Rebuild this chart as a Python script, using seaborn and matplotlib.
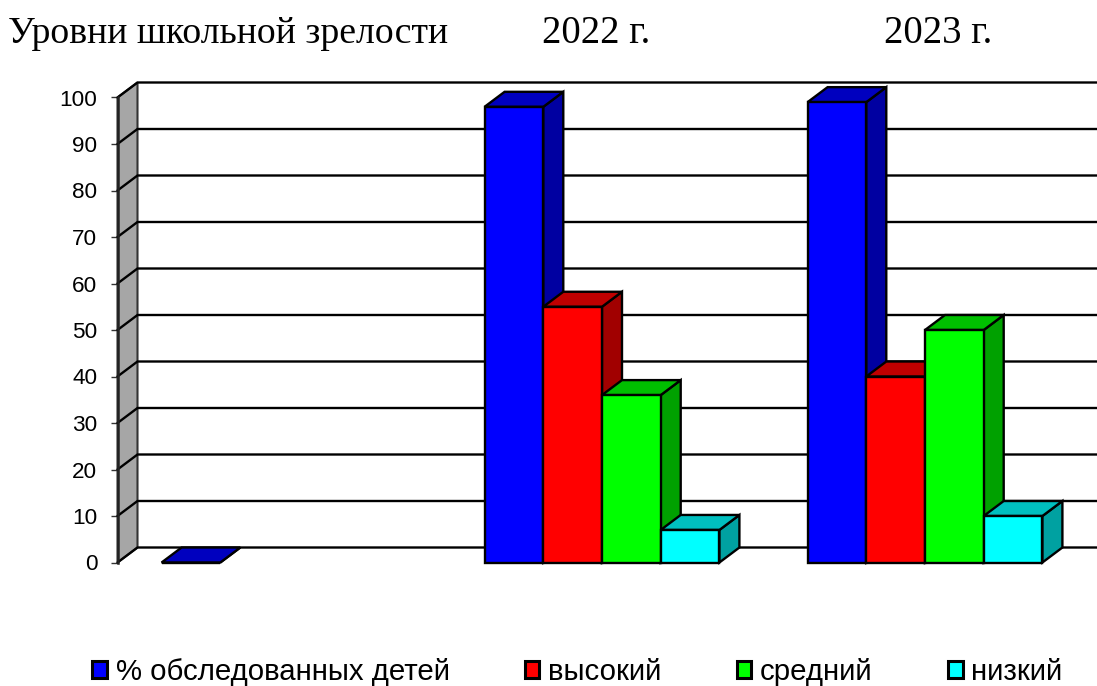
import pandas as pd
import seaborn as sns
import matplotlib.pyplot as plt
from matplotlib.patches import Polygon
from matplotlib.colors import to_rgb

# data
years = ["", "2022 г.", "2023 г."]
levels = ["% обследованных детей", "высокий", "средний", "низкий"]
surveyed = [0, 98, 99]
high = [None, 55, 40]
middle = [None, 36, 50]
low = [None, 7, 10]
colors = ["#0000ff", "#ff0000", "#00ff00", "#00ffff"]
y_ticks = [0, 10, 20, 30, 40, 50, 60, 70, 80, 90, 100]

rows = []
for level, vals in zip(levels, [surveyed, high, middle, low]):
    for year, v in zip(years, vals):
        rows.append({"year": year, "level": level, "value": v})
df = pd.DataFrame(rows)

sns.set_style("white")
plt.rcParams["font.family"] = ["Liberation Sans", "DejaVu Sans"]

W, H = 1097, 686
fig = plt.figure(figsize=(W / 100, H / 100), dpi=100)
ax = fig.add_axes([117.5 / W, 1 - 562.5 / H, 969 / W, 465 / H])

sns.barplot(data=df, x="year", y="value", hue="level", order=years, hue_order=levels,
            palette=colors, saturation=1, width=0.727, gap=0, errorbar=None,
            edgecolor="black", linewidth=1.7, ax=ax, zorder=3)

ax.set_xlim(-0.5, 2.5)
ax.set_ylim(0, 100)
ax.set_xlabel("")
ax.set_ylabel("")
ax.set_xticks([])
ax.set_yticks(y_ticks)
ax.tick_params(axis="y", left=True, length=5, width=1, color="#333333", labelsize=16.2,
               labelcolor="black", pad=9.5)
for s in ["top", "right", "bottom"]:
    ax.spines[s].set_visible(False)
ax.spines["left"].set_linewidth(1.8)
ax.spines["left"].set_color("#222222")

# 3d depth, in data units
dx = 20 / 323
dy = 15 / 4.65

# walls
ax.add_patch(Polygon([(-0.5, 0), (-0.5 + dx, dy), (-0.5 + dx, 100 + dy), (-0.5, 100)],
                     closed=True, facecolor="#a6a6a6", edgecolor="#333333", linewidth=1.5,
                     clip_on=False, zorder=1))
for v in y_ticks:
    ax.plot([-0.5, -0.5 + dx, 2.5 + dx], [v, v + dy, v + dy], color="black", lw=1.7,
            clip_on=False, zorder=2, solid_joinstyle="miter")

# tops and sides of the bars, left to right so the fronts overlap
bars = [b for c in ax.containers for b in c]
bars.sort(key=lambda b: b.get_x())
z = 4
for b in bars:
    x0 = b.get_x()
    x1 = x0 + b.get_width()
    h = b.get_height()
    rgb = to_rgb(b.get_facecolor()[:3])
    top_col = tuple(c * 0.75 for c in rgb)
    side_col = tuple(c * 0.63 for c in rgb)
    ax.add_patch(Polygon([(x1, 0), (x1 + dx, dy), (x1 + dx, h + dy), (x1, h)], closed=True,
                         facecolor=side_col, edgecolor="black", linewidth=1.7,
                         clip_on=False, zorder=z))
    ax.add_patch(Polygon([(x0, h), (x0 + dx, h + dy), (x1 + dx, h + dy), (x1, h)], closed=True,
                         facecolor=top_col, edgecolor="black", linewidth=1.7,
                         clip_on=False, zorder=z))
    b.set_zorder(z + 0.5)
    b.set_clip_on(False)
    z += 1

# headings
fig.text(8 / W, 1 - 43 / H, "Уровни школьной зрелости", family="Liberation Serif", fontsize=27.2, color="black")
fig.text(542 / W, 1 - 43 / H, years[1], family="Liberation Serif", fontsize=27.8, color="black")
fig.text(884 / W, 1 - 43 / H, years[2], family="Liberation Serif", fontsize=27.8, color="black")

handles, labels = ax.get_legend_handles_labels()
leg = ax.legend(handles, labels, ncol=4, frameon=False, fontsize=21.2,
                loc="lower left", bbox_to_anchor=(92 / W, 0.0), bbox_transform=fig.transFigure,
                handlelength=0.5, handleheight=0.5, handletextpad=0.3, columnspacing=2.55,
                borderpad=0, borderaxespad=0, labelcolor="black")
for h in leg.legend_handles:
    h.set_linewidth(2.2)
    h.set_edgecolor("black")

fig.savefig("out.png", dpi=100)
